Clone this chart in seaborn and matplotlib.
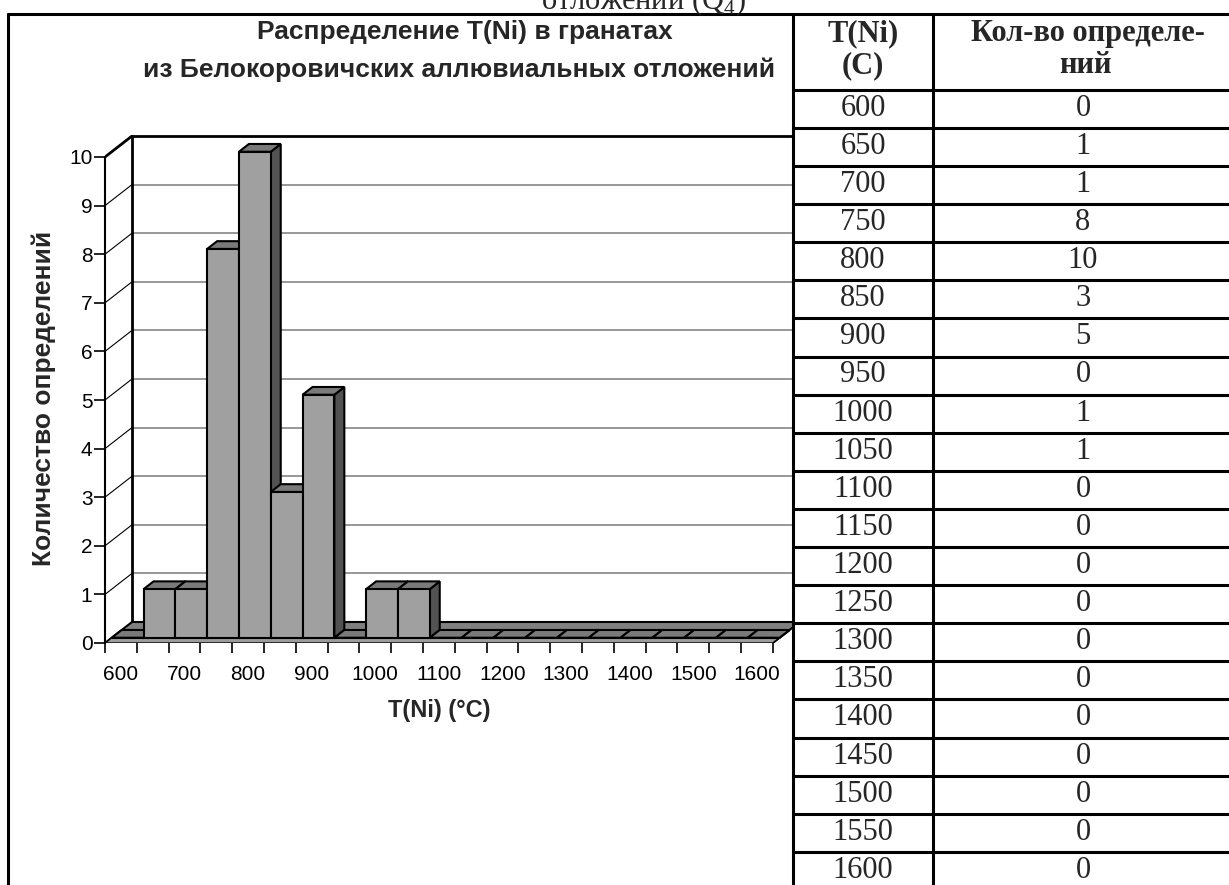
import matplotlib
matplotlib.use("Agg")
import matplotlib.pyplot as plt
import numpy as np
import pandas as pd
import seaborn as sns
from matplotlib.patches import Polygon

temps = [600, 650, 700, 750, 800, 850, 900, 950, 1000, 1050, 1100,
         1150, 1200, 1250, 1300, 1350, 1400, 1450, 1500, 1550, 1600]
counts = [0, 1, 1, 8, 10, 3, 5, 0, 1, 1, 0, 0, 0, 0, 0, 0, 0, 0, 0, 0, 0]
y_ticks = [0, 1, 2, 3, 4, 5, 6, 7, 8, 9, 10]
x_labels = [str(t) for t in temps[::2]]

title_lines = ["Распределение T(Ni) в гранатах",
               "из Белокоровичских аллювиальных отложений"]
ylabel = "Количество определений"
xlabel = "T(Ni) (°C)"
head_t = ["T(Ni)", "(C)"]
head_n = ["Кол-во определе-", "ний"]
caption = "отложений (Q$_4$)"

W, H = 1229, 885
sns.set_theme(style="white")
plt.rcParams["font.family"] = ["Liberation Sans", "DejaVu Sans"]
plt.rcParams["mathtext.fontset"] = "custom"
plt.rcParams["mathtext.rm"] = "Liberation Serif"
serif = ["Liberation Serif", "DejaVu Serif"]

fig = plt.figure(figsize=(W / 100, H / 100), dpi=100)

# chart frame in pixels (front plane) and pseudo-3D depth
x0_px, x1_px = 105, 793
y0_px, y1_px = 643, 135
cat_px, unit_px = 31.8, 48.6
dx, dy = 27 / cat_px, 21 / unit_px
f0, f1 = 0.25, 0.62  # bar front / back depth fraction
ax = fig.add_axes([x0_px / W, 1 - y0_px / H, (x1_px - x0_px) / W, (y0_px - y1_px) / H])
xmax = -0.5 + (x1_px - x0_px) / cat_px
ymax = (y0_px - y1_px) / unit_px
n = len(temps)

df = pd.DataFrame({"T": [str(t) for t in temps], "n": counts})
sns.barplot(data=df, x="T", y="n", color="#a0a0a0", saturation=1, width=1.0,
            edgecolor="black", linewidth=1.5, ax=ax)
bars = list(ax.patches)

ax.set_xlim(-0.5, xmax)
ax.set_ylim(0, ymax)
ax.set_xlabel("")
ax.set_ylabel("")

# floor
ax.add_patch(Polygon([(-0.5, 0), (n - 0.5, 0), (n - 0.5 + dx, dy), (-0.5 + dx, dy)],
                     fc="#808080", ec="black", lw=1.5, zorder=1))
ax.add_patch(Polygon([(-0.5, 0), (n - 0.5, 0), (n - 0.5 + f0 * dx, f0 * dy), (-0.5 + f0 * dx, f0 * dy)],
                     fc="#9c9c9c", ec="black", lw=1.0, zorder=1.1))

# back wall grid + side wall diagonals
for k in y_ticks[1:]:
    top = k == y_ticks[-1]
    ax.plot([-0.5 + dx, xmax], [k + dy, k + dy], color="black" if top else "#7a7a7a",
            lw=2 if top else 1.1, zorder=0.5, solid_capstyle="butt")
    ax.plot([-0.5, -0.5 + dx], [k, k + dy], color="black", lw=2 if top else 0.8, zorder=0.5)
ax.plot([-0.5 + dx, -0.5 + dx], [dy, y_ticks[-1] + dy], color="black", lw=2, zorder=0.6)

# bars: shift front face into depth, add top and side faces
b = f1 - f0
for i, p in enumerate(bars):
    p.set_x(p.get_x() + f0 * dx)
    p.set_y(f0 * dy)
    xl, xr = p.get_x(), p.get_x() + p.get_width()
    yb, yt = p.get_y(), p.get_y() + p.get_height()
    z = 2 + i * 0.01
    ax.add_patch(Polygon([(xr, yb), (xr + b * dx, yb + b * dy), (xr + b * dx, yt + b * dy), (xr, yt)],
                         fc="#525252", ec="black", lw=1.5, zorder=z))
    ax.add_patch(Polygon([(xl, yt), (xr, yt), (xr + b * dx, yt + b * dy), (xl + b * dx, yt + b * dy)],
                         fc="#7a7a7a", ec="black", lw=1.5, zorder=z + 0.002))
    p.set_zorder(z + 0.004)

for s in ["top", "right", "bottom"]:
    ax.spines[s].set_visible(False)
ax.spines["left"].set_bounds(0, y_ticks[-1])
ax.spines["left"].set_color("black")
ax.spines["left"].set_linewidth(1.5)
ax.spines["left"].set_zorder(3)

ax.set_xticks(np.arange(n + 1) - 0.5)
ax.set_xticklabels([])
ax.set_xticks(np.arange(0, n, 2), minor=True)
ax.set_xticklabels(x_labels, minor=True)
ax.tick_params(axis="x", which="major", bottom=True, length=7, width=1.2, color="black", direction="out")
ax.tick_params(axis="x", which="minor", bottom=True, length=0, pad=16, labelsize=15, labelcolor="black")
ax.set_yticks(y_ticks)
ax.set_yticklabels([str(v) for v in y_ticks])
ax.tick_params(axis="y", left=True, length=8, width=1.2, color="black", pad=1,
               labelsize=15, labelcolor="black", direction="out")

# overlay in pixel coordinates: table, titles
ov = fig.add_axes([0, 0, 1, 1], zorder=5)
ov.set_xlim(0, W)
ov.set_ylim(H, 0)
ov.axis("off")

lw_t = 2.2
ov.plot([8, 8], [14, H], color="black", lw=lw_t)
ov.plot([8, W], [14, 14], color="black", lw=lw_t)
ov.plot([793, 793], [14, H], color="black", lw=lw_t)
ov.plot([933, 933], [14, H], color="black", lw=lw_t)
row0, row_h = 89.8, 38.1
for k in range(n):
    y = row0 + row_h * k
    ov.plot([793, W], [y, y], color="black", lw=lw_t)
for k, (t, c) in enumerate(zip(temps, counts)):
    yb = row0 + row_h * k + 26
    ov.text(863, yb, str(t), ha="center", va="baseline", fontsize=22, family=serif)
    ov.text(1083, yb, str(c), ha="center", va="baseline", fontsize=22, family=serif)

ov.text(863, 41, head_t[0], ha="center", va="baseline", fontsize=22, weight="bold", family=serif)
ov.text(863, 73, head_t[1], ha="center", va="baseline", fontsize=22, weight="bold", family=serif)
ov.text(1088, 41, head_n[0], ha="center", va="baseline", fontsize=22, weight="bold", family=serif)
ov.text(1086, 73, head_n[1], ha="center", va="baseline", fontsize=22, weight="bold", family=serif)

ov.text(644, 9, caption, ha="center", va="baseline", fontsize=22, family=serif)

ov.text(465, 39, title_lines[0], ha="center", va="baseline", fontsize=19, weight="bold")
ov.text(459, 77, title_lines[1], ha="center", va="baseline", fontsize=19, weight="bold")
ov.text(44, 398, ylabel, rotation=90, ha="center", va="center", fontsize=19, weight="bold")
ov.text(439, 711, xlabel, ha="center", va="center", fontsize=17, weight="bold")

fig.savefig("out.png", dpi=100)
